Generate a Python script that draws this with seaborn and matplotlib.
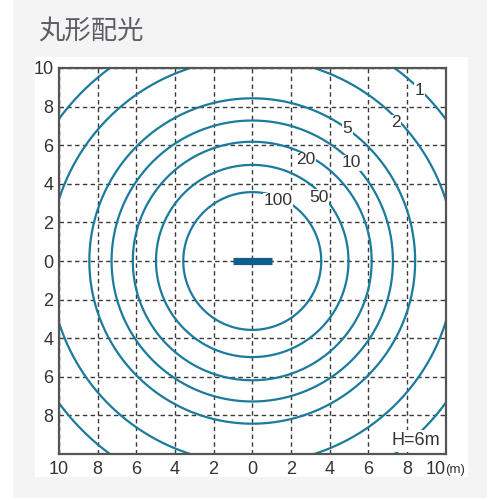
import numpy as np
import pandas as pd
import matplotlib
matplotlib.use("Agg")
import matplotlib.pyplot as plt
from matplotlib.patches import Rectangle
from matplotlib import font_manager
import seaborn as sns

# ---- data ----
levels = [100, 50, 20, 10, 5, 2, 1]                 # lux labels
radii = [3.57, 4.98, 6.18, 7.28, 8.43, 10.5, 12.42]  # contour radius (m)
tick_values = [-10, -8, -6, -4, -2, 0, 2, 4, 6, 8, 10]
x_tick_labels = ["10", "8", "6", "4", "2", "0", "2", "4", "6", "8", "10"]
y_tick_labels = ["", "8", "6", "4", "2", "0", "2", "4", "6", "8", "10"]
lamp_x = [-1, 1]
lamp_y = [0, 0]
title = "丸形配光"
height_note = "H=6m"

# label layout (positions of contour labels)
label_pos = [(1.34, 3.13), (3.47, 3.31), (2.79, 5.26), (5.12, 5.09),
             (4.92, 6.86), (7.41, 7.16), (8.65, 8.81)]

sns.set_theme(style="white")
names = {f.name for f in font_manager.fontManager.ttflist}
narrow = "Liberation Sans Narrow" if "Liberation Sans Narrow" in names else "Liberation Sans"
plt.rcParams["font.family"] = [narrow, "DejaVu Sans"]

LINE = "#1b7b9c"
LAMP = "#0f5f8c"
TXT = "#333333"

fig = plt.figure(figsize=(5, 5), dpi=100, facecolor="white")
fig.patches.append(Rectangle((13 / 500, 0.004), 474 / 500, 0.996, transform=fig.transFigure,
                             facecolor="#f4f4f4", edgecolor="none", zorder=-3))
fig.patches.append(Rectangle((35 / 500, 23 / 500), 433 / 500, 420 / 500, transform=fig.transFigure,
                             facecolor="white", edgecolor="none", zorder=-2))

ax = fig.add_axes([59 / 500, 46 / 500, 386.5 / 500, 386 / 500])
ax.set_zorder(1)
ax.set_facecolor("white")

theta = np.linspace(0, 2 * np.pi, 721)
rows = []
for lv, r in zip(levels, radii):
    rows.append(pd.DataFrame({"x": r * np.cos(theta), "y": r * np.sin(theta),
                              "level": str(lv)}))
df = pd.concat(rows, ignore_index=True)

sns.lineplot(data=df, x="x", y="y", hue="level", units="level", estimator=None, sort=False,
             palette=[LINE] * len(levels), linewidth=1.6, legend=False, ax=ax, zorder=3)

lamp = pd.DataFrame({"x": lamp_x, "y": lamp_y})
sns.lineplot(data=lamp, x="x", y="y", color=LAMP, linewidth=5.2, ax=ax, zorder=4,
             solid_capstyle="butt")

for lv, (lx, ly) in zip(levels, label_pos):
    ax.text(lx, ly, str(lv), ha="center", va="center", fontsize=12.5, color=TXT, zorder=5,
            bbox=dict(facecolor="white", edgecolor="none", pad=0.3))

ax.set_xlim(-10, 10)
ax.set_ylim(-10, 10)
ax.set_xticks(tick_values)
ax.set_yticks(tick_values)
ax.set_xticklabels(x_tick_labels[:-1] + [""])
ax.set_yticklabels(y_tick_labels)
ax.tick_params(axis="both", length=0, labelsize=13, labelcolor=TXT)
ax.tick_params(axis="x", pad=5)
ax.tick_params(axis="y", pad=4)
ax.set_xlabel("")
ax.set_ylabel("")
ax.grid(True, color="#3a3a3a", linestyle=(0, (3.2, 2.4)), linewidth=1.0, zorder=1)
ax.set_axisbelow(True)
for s in ax.spines.values():
    s.set_color("#555555")
    s.set_linewidth(1.6)
    s.set_zorder(6)

# last x label "10(m)"
trans = ax.get_xaxis_transform()
ax.annotate(x_tick_labels[-1], xy=(10, 0), xycoords=trans, xytext=(0, -5), textcoords="offset points",
            ha="right", va="top", fontsize=13, color=TXT, annotation_clip=False)
ax.annotate("(m)", xy=(10, 0), xycoords=trans, xytext=(0, -7), textcoords="offset points",
            ha="left", va="top", fontsize=9.5, color=TXT, annotation_clip=False)

ax.text(0.986, 0.012, height_note, transform=ax.transAxes, ha="right", va="bottom",
        fontsize=13, color=TXT, zorder=7,
        bbox=dict(facecolor="white", edgecolor="none", pad=1.5))

fig.text(38 / 500, 1 - 31 / 500, title, ha="left", va="center", fontsize=19, color="#5e5e68",
         family=["Noto Sans CJK JP", "DejaVu Sans"])

fig.savefig("out.png", dpi=100, facecolor="white")
